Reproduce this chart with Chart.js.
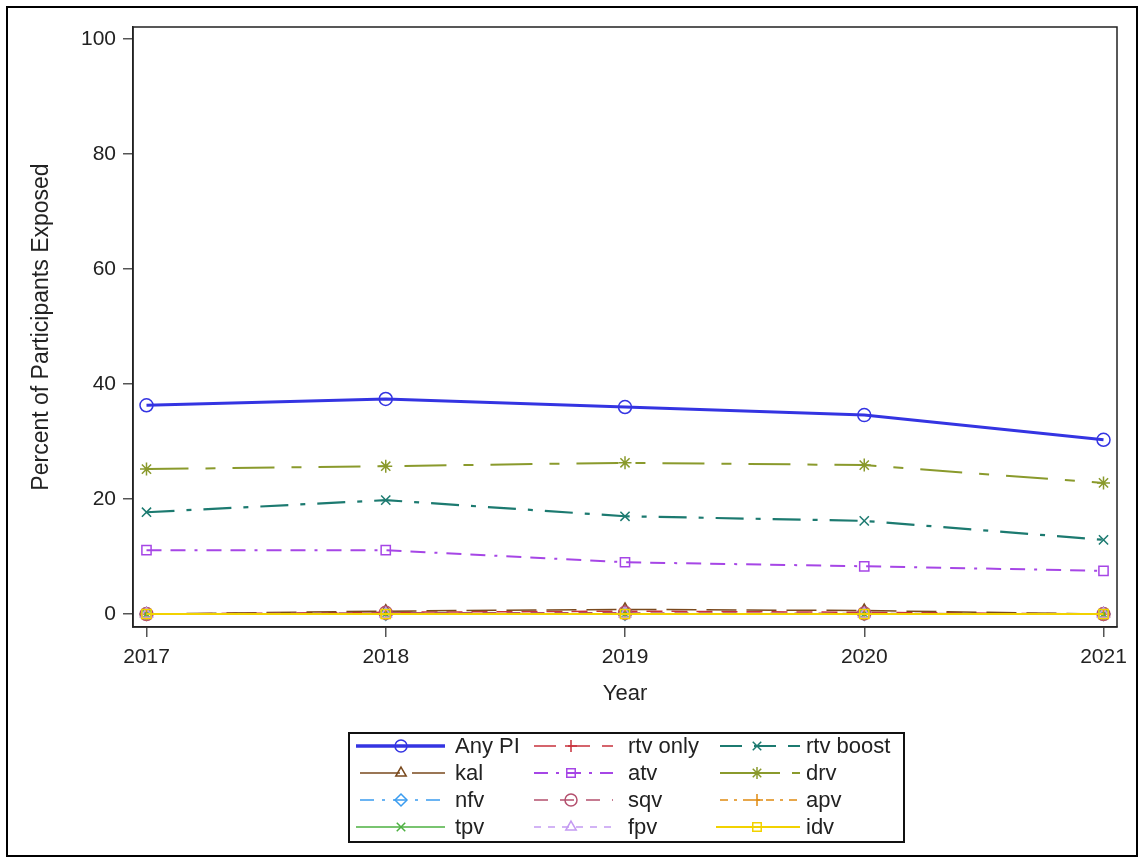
<!DOCTYPE html>
<html>
<head>
<meta charset="utf-8">
<script src="https://cdn.jsdelivr.net/npm/chart.js@4.4.1/dist/chart.umd.min.js"></script>
<style>
  html, body { margin: 0; padding: 0; background: #fff; }
  #wrap { width: 1142px; height: 861px; }
</style>
</head>
<body>
<div id="wrap"><canvas id="chart" width="1142" height="861"></canvas></div>
<script>
/* ── Data ── */
const years    = [2017, 2018, 2019, 2020, 2021];
const yTicks   = [0, 20, 40, 60, 80, 100];
const names    = ['Any PI', 'rtv only', 'rtv boost', 'kal', 'atv', 'drv', 'nfv', 'sqv', 'apv', 'tpv', 'fpv', 'idv'];

const anyPI    = [36.3, 37.4, 36.0, 34.6, 30.3];
const rtvOnly  = [0.0, 0.3, 0.5, 0.3, 0.0];
const rtvBoost = [17.7, 19.8, 17.0, 16.2, 12.9];
const kal      = [0.0, 0.5, 0.8, 0.6, 0.0];
const atv      = [11.1, 11.1, 9.0, 8.3, 7.5];
const drv      = [25.2, 25.7, 26.3, 25.9, 22.8];
const nfv      = [0.0, 0.0, 0.0, 0.0, 0.0];
const sqv      = [0.0, 0.2, 0.2, 0.1, 0.0];
const apv      = [0.0, 0.0, 0.0, 0.0, 0.0];
const tpv      = [0.0, 0.0, 0.0, 0.0, 0.0];
const fpv      = [0.0, 0.0, 0.0, 0.0, 0.0];
const idv      = [0.0, 0.0, 0.0, 0.0, 0.0];

const values = [anyPI, rtvOnly, rtvBoost, kal, atv, drv, nfv, sqv, apv, tpv, fpv, idv];

/* ── Styles (per series) ── */
const styles = [
  { color: '#3434E2', dash: [],                     point: 'circle',   width: 3 },
  { color: '#C8323C', dash: [16, 9],                point: 'cross',    width: 1.5 },
  { color: '#1C7A70', dash: [28, 12, 5, 12],        point: 'crossRot', width: 2.2 },
  { color: '#7A4A1E', dash: [30, 10],               point: 'triangle', width: 1.5 },
  { color: '#A646E6', dash: [15, 9, 15, 9, 3, 9],   point: 'rect',     width: 2 },
  { color: '#8A9A2C', dash: [42, 17, 10, 17],       point: 'star',     width: 2 },
  { color: '#3A9CF0', dash: [12, 7, 3, 7],          point: 'rectRot',  width: 1.5 },
  { color: '#B4506E', dash: [14, 10],               point: 'circle',   width: 1.5 },
  { color: '#E08A10', dash: [8, 6, 3, 6],           point: 'cross',    width: 1.5 },
  { color: '#4CB040', dash: [],                     point: 'crossRot', width: 1.5 },
  { color: '#C49AF2', dash: [6, 6],                 point: 'triangle', width: 1.5 },
  { color: '#F2D200', dash: [],                     point: 'rect',     width: 2 },
];

/* legend line dashes, shorter than the plot ones */
const legendDash = [
  [], [22, 12], [22, 12], [40, 12], [14, 8, 3, 8], [60, 12, 8, 12],
  [14, 8, 3, 8], [14, 12], [8, 6, 3, 6], [], [7, 7], [],
];

const FONT = "'Liberation Sans', Arial, sans-serif";
const TXT  = '#222';

const datasets = names.map((name, i) => ({
  label: name,
  data: years.map((yr, j) => ({ x: yr, y: values[i][j] })),
  borderColor: styles[i].color,
  borderDash: styles[i].dash,
  borderWidth: styles[i].width,
  pointStyle: styles[i].point,
  pointRadius: 6.5,
  pointBorderWidth: 1.5,
  pointBorderColor: styles[i].color,
  pointBackgroundColor: 'rgba(0,0,0,0)',
  fill: false,
  tension: 0,
  order: names.length - i,
}));

/* ── Frame, plot box and legend ── */
const framePlugin = {
  id: 'frame',
  beforeDraw(chart) {
    const ctx = chart.ctx;
    ctx.save();
    ctx.fillStyle = '#fff';
    ctx.fillRect(0, 0, chart.width, chart.height);
    ctx.restore();
  },
  afterDraw(chart) {
    const ctx = chart.ctx;
    const a = chart.chartArea;
    ctx.save();
    ctx.strokeStyle = '#222';
    ctx.lineWidth = 1.5;
    ctx.strokeRect(a.left, a.top, a.right - a.left, a.bottom - a.top);

    // outer frame
    ctx.strokeStyle = '#000';
    ctx.lineWidth = 2;
    ctx.strokeRect(7, 7, 1130, 849);

    // legend box
    ctx.lineWidth = 2;
    ctx.strokeStyle = '#111';
    ctx.strokeRect(349, 733, 555, 109);

    const cols = [
      { x0: 356, x1: 445, mx: 401, tx: 455 },
      { x0: 530, x1: 613, mx: 571, tx: 628 },
      { x0: 716, x1: 800, mx: 757, tx: 806 },
    ];
    const rows = [746, 773, 800, 827];
    ctx.font = '22px ' + FONT;
    ctx.textBaseline = 'middle';
    names.forEach((name, i) => {
      const c = cols[i % 3];
      const y = rows[Math.floor(i / 3)];
      const st = styles[i];
      ctx.save();
      ctx.strokeStyle = st.color;
      ctx.lineWidth = Math.min(st.width, 2);
      if (i === 0) ctx.lineWidth = 3.5;
      ctx.setLineDash(legendDash[i]);
      ctx.lineDashOffset = -4;
      ctx.beginPath();
      ctx.moveTo(c.x0, y);
      ctx.lineTo(c.x1, y);
      ctx.stroke();
      ctx.setLineDash([]);
      ctx.lineWidth = 1.5;
      ctx.fillStyle = 'rgba(0,0,0,0)';
      Chart.helpers.drawPoint(ctx, { pointStyle: st.point, radius: 6, rotation: 0, borderWidth: 1.5 }, c.mx, y);
      ctx.restore();
      ctx.fillStyle = TXT;
      ctx.textAlign = 'left';
      ctx.fillText(name, c.tx, y + 1);
    });
    ctx.restore();
  }
};

new Chart(document.getElementById('chart'), {
  type: 'line',
  data: { datasets },
  plugins: [framePlugin],
  options: {
    responsive: false,
    animation: false,
    layout: { padding: { left: 24, top: 27, right: 25, bottom: 144 } },
    plugins: {
      legend: { display: false },
      tooltip: { enabled: false },
    },
    scales: {
      x: {
        type: 'linear',
        min: 2016.9436,
        max: 2021.0564,
        afterBuildTicks: s => { s.ticks = years.map(v => ({ value: v })); },
        afterFit: s => { s.height = 90; },
        grid: { drawOnChartArea: false, drawTicks: true, tickLength: 10, color: '#555', lineWidth: 1.5 },
        border: { color: '#222', width: 1.5 },
        ticks: { color: TXT, font: { family: FONT, size: 21 }, padding: 8, maxRotation: 0, callback: v => String(v) },
        title: { display: true, text: 'Year', color: TXT, font: { family: FONT, size: 22 }, padding: { top: 0, bottom: 10 } },
      },
      y: {
        type: 'linear',
        min: -2.26,
        max: 102.09,
        afterBuildTicks: s => { s.ticks = yTicks.map(v => ({ value: v })); },
        afterFit: s => { s.width = 109; },
        grid: { drawOnChartArea: false, drawTicks: true, tickLength: 10, color: '#555', lineWidth: 1.5 },
        border: { color: '#222', width: 1.5 },
        ticks: { color: TXT, font: { family: FONT, size: 21 }, padding: 7, callback: v => String(v) },
        title: { display: true, text: 'Percent of Participants Exposed', color: TXT, font: { family: FONT, size: 23 }, padding: { top: 4, bottom: 0 } },
      },
    },
  },
});
</script>
</body>
</html>
